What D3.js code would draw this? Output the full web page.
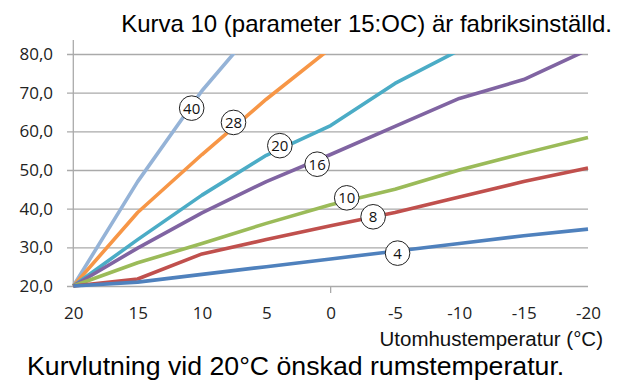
<!DOCTYPE html>
<html><head><meta charset="utf-8">
<script src="https://cdn.jsdelivr.net/npm/d3@7"></script>
<style>
html,body{margin:0;padding:0;background:#fff;}
svg{display:block;}
</style></head>
<body>
<svg id="chart" width="618" height="383"></svg>
<script>
// ---- data ----
const outdoorTemps = [20, 15, 10, 5, 0, -5, -10, -15, -20];
const curve4  = [20, 21, 23, 25, 27, 29, 31, 33, 34.7];
const curve8  = [20, 21.8, 28.3, 32, 35.6, 39, 43, 47, 50.5];
const curve10 = [20, 26, 31, 36.2, 41, 45, 50, 54.3, 58.4];
const curve16 = [20, 29.8, 38.9, 47, 54, 61.3, 68.5, 73.4, 81.1];
const curve20 = [20, 32, 43.5, 53.8, 61.5, 72.4, 81];
const curve28 = [20, 39, 54, 68.3, 81.5];
const curve40 = [20, 47, 70.5, 90];
const curveNames = ["4", "8", "10", "16", "20", "28", "40"];
const curveColors = ["#4F81BD", "#C0504D", "#9BBB59", "#8064A2", "#4BACC6", "#F79646", "#95B3D7"];
// label positions (outdoor temp, flow temp)
const labelX = [-5.2, -3.3, -1.25, 1.05, 3.95, 7.55, 10.8];
const labelY = [28.5, 37.9, 42.8, 51.5, 56.3, 62.3, 66];
const yTicks = [20, 30, 40, 50, 60, 70, 80];
const xTicks = [20, 15, 10, 5, 0, -5, -10, -15, -20];
const titleText = "Kurva 10 (parameter 15:OC) är fabriksinställd.";
const xAxisTitle = "Utomhustemperatur (°C)";
const captionText = "Kurvlutning vid 20°C önskad rumstemperatur.";

const series = [curve4, curve8, curve10, curve16, curve20, curve28, curve40];

const svg = d3.select("#chart");
const x = d3.scaleLinear().domain([20, -20]).range([73.3, 588]);
const y = d3.scaleLinear().domain([20, 80]).range([286, 54]);
const gridLeft = 67;

const sv = d3.formatLocale({decimal: ",", thousands: " ", grouping: [3], currency: ["", " kr"]});
const fmt = sv.format(".1f");

// y axis with gridlines
const yAxis = d3.axisLeft(y).tickValues(yTicks).tickFormat(fmt)
  .tickSizeInner(-(x(-20) - gridLeft)).tickSizeOuter(0).tickPadding(14);
const gy = svg.append("g").attr("transform", `translate(${gridLeft},0)`).call(yAxis);
gy.select(".domain").remove();
gy.selectAll(".tick line").attr("stroke", "#AAAAAA").attr("stroke-width", 1.3);
gy.selectAll(".tick text").attr("font-family", "Open Sans").attr("font-size", 17).attr("fill", "#222");

// vertical axis line
svg.append("line").attr("x1", x(20)).attr("x2", x(20)).attr("y1", 40).attr("y2", y(20))
  .attr("stroke", "#AAAAAA").attr("stroke-width", 1.3);

// x axis labels
const xAxis = d3.axisBottom(x).tickValues(xTicks).tickFormat(d => String(d)).tickSize(0).tickPadding(21);
const gx = svg.append("g").attr("transform", `translate(0,${y(20)})`).call(xAxis);
gx.select(".domain").remove();
gx.selectAll(".tick text").attr("font-family", "Open Sans").attr("font-size", 17).attr("fill", "#222");
// small tick at 0
svg.append("line").attr("x1", x(0)).attr("x2", x(0)).attr("y1", y(20)).attr("y2", y(20) + 7)
  .attr("stroke", "#AAAAAA").attr("stroke-width", 1.3);

// clip
svg.append("clipPath").attr("id", "plotclip").append("rect")
  .attr("x", 0).attr("y", y(80)).attr("width", 618).attr("height", y(20) - y(80) + 10);

const line = d3.line().x((d, i) => x(outdoorTemps[i])).y(d => y(d));
const gl = svg.append("g").attr("clip-path", "url(#plotclip)");
series.slice().reverse().forEach((s, ri) => {
  const i = series.length - 1 - ri;
  gl.append("path").datum(s).attr("d", line).attr("fill", "none")
    .attr("stroke", curveColors[i]).attr("stroke-width", 3.6)
    .attr("stroke-linejoin", "round").attr("stroke-linecap", "butt");
});

// labels
const lg = svg.append("g");
curveNames.forEach((n, i) => {
  const g = lg.append("g").attr("transform", `translate(${x(labelX[i])},${y(labelY[i])})`);
  g.append("circle").attr("r", 12.3).attr("fill", "#fff").attr("stroke", "#222").attr("stroke-width", 1);
  g.append("text").attr("text-anchor", "middle").attr("dy", "0.36em")
    .attr("font-family", "Open Sans").attr("font-size", 15).attr("fill", "#111").text(n);
});

// titles
svg.append("text").attr("x", 612).attr("y", 32).attr("text-anchor", "end")
  .attr("font-family", "Liberation Sans").attr("font-size", 24).attr("fill", "#000").text(titleText);
svg.append("text").attr("x", 603).attr("y", 346).attr("text-anchor", "end")
  .attr("font-family", "Liberation Sans").attr("font-size", 20.5).attr("fill", "#111").text(xAxisTitle);
svg.append("text").attr("x", 27).attr("y", 375).attr("text-anchor", "start")
  .attr("font-family", "Liberation Sans").attr("font-size", 26.7).attr("fill", "#000").text(captionText);
</script>
</body></html>
